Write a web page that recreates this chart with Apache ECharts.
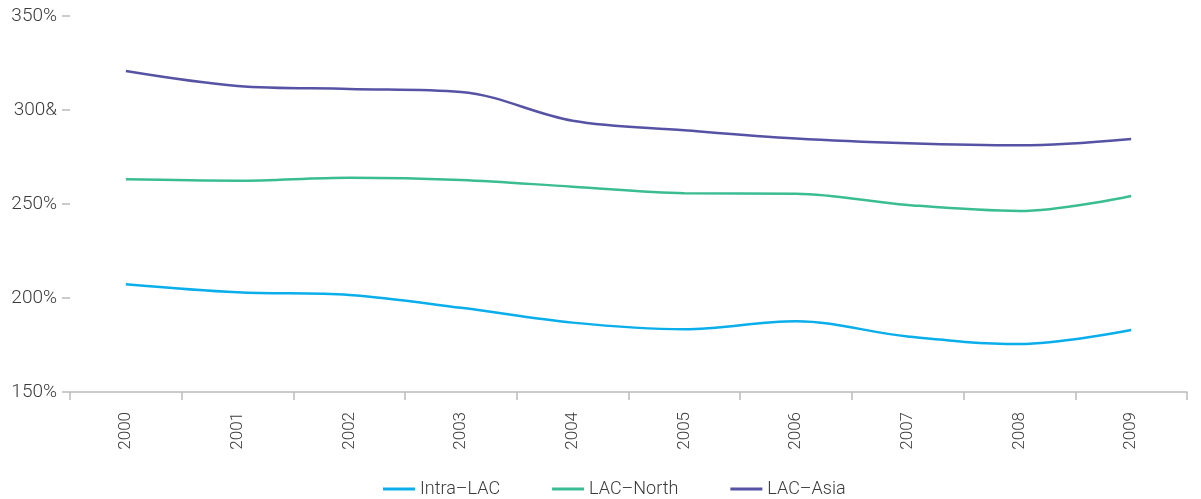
<!DOCTYPE html>
<html>
<head>
<meta charset="utf-8">
<script src="https://cdn.jsdelivr.net/npm/echarts@6/dist/echarts.min.js"></script>
<style>
	html, body { margin: 0; padding: 0; background: #fff; }
	#chart { width: 1201px; height: 499px; }
</style>
</head>
<body>
<div id="chart"></div>
<script>
// 年份
var years = ['2000', '2001', '2002', '2003', '2004', '2005', '2006', '2007', '2008', '2009'];
// 各系列数值 (%)
var intraLAC = [207.3, 203.0, 201.6, 194.8, 186.9, 183.4, 187.6, 179.5, 175.5, 183.0];
var lacNorth = [263.1, 262.4, 264.0, 262.8, 259.2, 255.7, 255.5, 249.5, 246.3, 254.3];
var lacAsia = [320.7, 312.8, 311.2, 309.6, 294.3, 289.2, 284.8, 282.3, 281.2, 284.6];
// y轴刻度文字
var yTickLabels = { 150: '150%', 200: '200%', 250: '250%', 300: '300&', 350: '350%' };

var myChart = echarts.init(document.getElementById('chart'));
var font = 'Roboto';
var textColor = '#3a3a3a';

var option = {
	animation: false,
	color: ['#0aaeea', '#3bbd93', '#5653a4'],
	legend: {
		bottom: -4,
		left: 378,
		itemGap: 52,
		itemWidth: 32,
		itemHeight: 3,
		icon: 'rect',
		textStyle: { fontFamily: font, fontSize: 18, color: textColor, fontWeight: 300 },
		data: ['Intra–LAC', 'LAC–North', 'LAC–Asia']
	},
	grid: { left: 70, right: 14, top: 16, bottom: 107, containLabel: false },
	xAxis: {
		type: 'category',
		boundaryGap: true,
		data: years,
		axisLine: { lineStyle: { color: '#bbb', width: 1.5 } },
		axisTick: { show: true, length: 8, lineStyle: { color: '#bbb', width: 1.5 } },
		axisLabel: {
			rotate: 90,
			margin: 20,
			fontFamily: font,
			fontSize: 17,
			fontWeight: 300,
			color: textColor
		}
	},
	yAxis: {
		type: 'value',
		min: 150,
		max: 350,
		interval: 50,
		axisLine: { show: false },
		axisTick: { show: true, length: 8, lineStyle: { color: '#bbb', width: 1.5 } },
		splitLine: { show: false },
		axisLabel: {
			margin: 13,
			fontFamily: font,
			fontSize: 19,
			fontWeight: 300,
			color: textColor,
			formatter: function (v) { return yTickLabels[v] || ''; }
		}
	},
	series: [
		{ name: 'Intra–LAC', type: 'line', smooth: 0.35, showSymbol: false, data: intraLAC, lineStyle: { width: 2.5 } },
		{ name: 'LAC–North', type: 'line', smooth: 0.35, showSymbol: false, data: lacNorth, lineStyle: { width: 2.5 } },
		{ name: 'LAC–Asia', type: 'line', smooth: 0.35, showSymbol: false, data: lacAsia, lineStyle: { width: 2.5 } }
	]
};
myChart.setOption(option);
</script>
</body>
</html>
